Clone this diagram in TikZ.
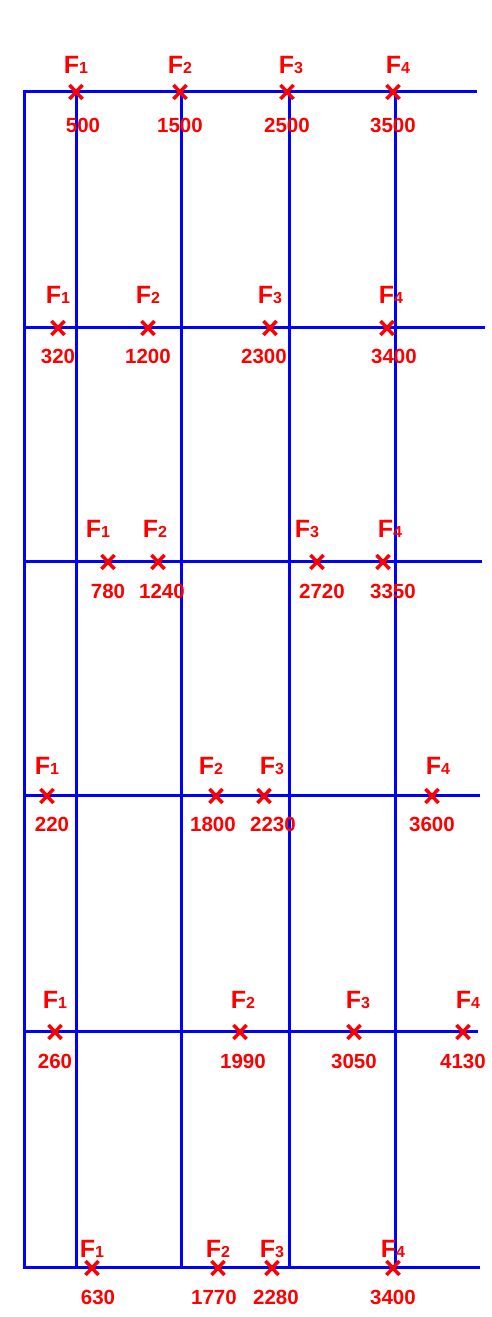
\documentclass[tikz,border=0pt]{standalone}
\usepackage{fontspec}
\setmainfont{Liberation Sans}
\usetikzlibrary{positioning,shapes.misc}

\newcommand{\fsub}[1]{F{\fontsize{16}{16}\selectfont #1}}

\begin{document}
\begin{tikzpicture}[
x=1pt, y=1pt,
grid/.style={draw=blue, line width=3pt},
fx/.style={cross out, draw=red, line width=3.5pt, minimum width=13pt, minimum height=14pt, inner sep=0pt, outer sep=0pt},
flab/.style={text=red, font=\fontsize{25}{25}\selectfont\bfseries, inner sep=0pt},
vlab/.style={text=red, font=\fontsize{20.5}{20.5}\selectfont\bfseries, inner sep=0pt}
]
\useasboundingbox (0,0) rectangle (491,1317);

% -------- Frame --------
\draw[grid] (477,1225) -- (24,1225) -- (24,49) -- (480,49);
\draw[grid] (76,1225) -- (76,49);
\draw[grid] (181,1225) -- (181,49);
\draw[grid] (289,1225) -- (289,49);
\draw[grid] (395,1225) -- (395,49);

\draw[grid] (24,989) -- (485,989);
\draw[grid] (24,755) -- (482,755);
\draw[grid] (24,521) -- (480,521);
\draw[grid] (24,285) -- (478,285);

% -------- Row 1 --------
\node[fx] (c11) at (76,1225) {};
\node[fx] (c12) at (180,1225) {};
\node[fx] (c13) at (287,1225) {};
\node[fx] (c14) at (393,1225) {};
\node[flab, above=11.5pt of c11] (f11) {\fsub{1}};
\node[flab, above=11.5pt of c12] (f12) {\fsub{2}};
\node[flab, above=11.5pt of c13, xshift=4pt] (f13) {\fsub{3}};
\node[flab, above=11.5pt of c14, xshift=5pt] (f14) {\fsub{4}};
\node[vlab, below=19.5pt of c11, xshift=7pt] (v11) {500};
\node[vlab, below=19.5pt of c12] (v12) {1500};
\node[vlab, below=19.5pt of c13] (v13) {2500};
\node[vlab, below=19.5pt of c14] (v14) {3500};

% -------- Row 2 --------
\node[fx] (c21) at (58,989) {};
\node[fx] (c22) at (148,989) {};
\node[fx] (c23) at (270,989) {};
\node[fx] (c24) at (387,989) {};
\node[flab, above=17.5pt of c21] (f21) {\fsub{1}};
\node[flab, above=17.5pt of c22] (f22) {\fsub{2}};
\node[flab, above=17.5pt of c23] (f23) {\fsub{3}};
\node[flab, above=17.5pt of c24, xshift=4pt] (f24) {\fsub{4}};
\node[vlab, below=13.5pt of c21] (v21) {320};
\node[vlab, below=13.5pt of c22] (v22) {1200};
\node[vlab, below=13.5pt of c23, xshift=-6pt] (v23) {2300};
\node[vlab, below=13.5pt of c24, xshift=7pt] (v24) {3400};

% -------- Row 3 --------
\node[fx] (c31) at (108,755) {};
\node[fx] (c32) at (158,755) {};
\node[fx] (c33) at (317,755) {};
\node[fx] (c34) at (383,755) {};
\node[flab, above=17.5pt of c31, xshift=-10pt] (f31) {\fsub{1}};
\node[flab, above=17.5pt of c32, xshift=-3pt] (f32) {\fsub{2}};
\node[flab, above=17.5pt of c33, xshift=-10pt] (f33) {\fsub{3}};
\node[flab, above=17.5pt of c34, xshift=7pt] (f34) {\fsub{4}};
\node[vlab, below=14.5pt of c31] (v31) {780};
\node[vlab, below=14.5pt of c32, xshift=4pt] (v32) {1240};
\node[vlab, below=14.5pt of c33, xshift=5pt] (v33) {2720};
\node[vlab, below=14.5pt of c34, xshift=10pt] (v34) {3350};

% -------- Row 4 --------
\node[fx] (c41) at (47,521) {};
\node[fx] (c42) at (216,521) {};
\node[fx] (c43) at (264,521) {};
\node[fx] (c44) at (432,521) {};
\node[flab, above=14.5pt of c41] (f41) {\fsub{1}};
\node[flab, above=14.5pt of c42, xshift=-5pt] (f42) {\fsub{2}};
\node[flab, above=14.5pt of c43, xshift=8pt] (f43) {\fsub{3}};
\node[flab, above=14.5pt of c44, xshift=6pt] (f44) {\fsub{4}};
\node[vlab, below=13.5pt of c41, xshift=5pt] (v41) {220};
\node[vlab, below=13.5pt of c42, xshift=-3pt] (v42) {1800};
\node[vlab, below=13.5pt of c43, xshift=9pt] (v43) {2230};
\node[vlab, below=13.5pt of c44] (v44) {3600};

% -------- Row 5 --------
\node[fx] (c51) at (55,285) {};
\node[fx] (c52) at (240,285) {};
\node[fx] (c53) at (354,285) {};
\node[fx] (c54) at (463,285) {};
\node[flab, above=16.5pt of c51] (f51) {\fsub{1}};
\node[flab, above=16.5pt of c52, xshift=3pt] (f52) {\fsub{2}};
\node[flab, above=16.5pt of c53, xshift=4pt] (f53) {\fsub{3}};
\node[flab, above=16.5pt of c54, xshift=5pt] (f54) {\fsub{4}};
\node[vlab, below=14.5pt of c51] (v51) {260};
\node[vlab, below=14.5pt of c52, xshift=3pt] (v52) {1990};
\node[vlab, below=14.5pt of c53] (v53) {3050};
\node[vlab, below=14.5pt of c54] (v54) {4130};

% -------- Row 6 --------
\node[fx] (c61) at (92,49) {};
\node[fx] (c62) at (218,49) {};
\node[fx] (c63) at (272,49) {};
\node[fx] (c64) at (393,49) {};
\node[flab, above=3.5pt of c61] (f61) {\fsub{1}};
\node[flab, above=3.5pt of c62] (f62) {\fsub{2}};
\node[flab, above=3.5pt of c63] (f63) {\fsub{3}};
\node[flab, above=3.5pt of c64] (f64) {\fsub{4}};
\node[vlab, below=14.5pt of c61, xshift=6pt] (v61) {630};
\node[vlab, below=14.5pt of c62, xshift=-4pt] (v62) {1770};
\node[vlab, below=14.5pt of c63, xshift=4pt] (v63) {2280};
\node[vlab, below=14.5pt of c64] (v64) {3400};

\end{tikzpicture}
\end{document}
